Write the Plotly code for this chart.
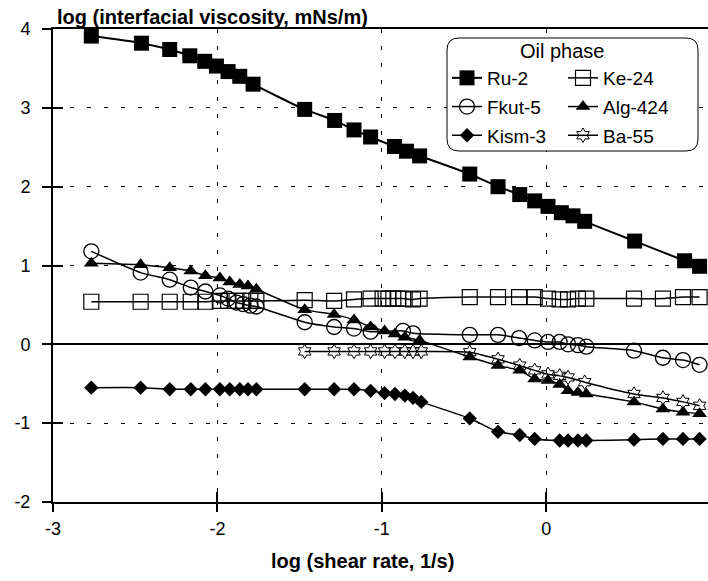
import plotly.graph_objects as go

# ---------------- data ----------------
ru_x = [-2.767, -2.462, -2.29, -2.168, -2.077, -2.006, -1.935, -1.864, -1.783,
        -1.469, -1.287, -1.169, -1.068, -0.923, -0.85, -0.77,
        -0.465, -0.293, -0.161, -0.07, 0.011, 0.092, 0.163, 0.234, 0.538, 0.842, 0.933]
ru_y = [3.91, 3.82, 3.74, 3.66, 3.59, 3.53, 3.46, 3.40, 3.30,
        2.98, 2.84, 2.72, 2.63, 2.51, 2.45, 2.39,
        2.16, 2.00, 1.90, 1.82, 1.75, 1.67, 1.63, 1.56, 1.31, 1.06, 0.99]

ke_x = [-2.767, -2.467, -2.29, -2.162, -2.073, -1.985, -1.935, -1.884, -1.843, -1.80, -1.763,
        -1.469, -1.29, -1.169, -1.068, -0.995, -0.96, -0.93, -0.90, -0.87, -0.81, -0.77,
        -0.465, -0.293, -0.165, -0.07, 0.011, 0.082, 0.133, 0.193, 0.244, 0.534, 0.71, 0.832, 0.933]
ke_y = [0.54, 0.54, 0.54, 0.54, 0.54, 0.55, 0.55, 0.55, 0.55, 0.55, 0.55,
        0.56, 0.55, 0.57, 0.58, 0.58, 0.58, 0.58, 0.58, 0.58, 0.57, 0.58,
        0.60, 0.60, 0.60, 0.60, 0.58, 0.57, 0.57, 0.58, 0.58, 0.58, 0.58, 0.60, 0.60]

fk_x = [-2.767, -2.467, -2.29, -2.162, -2.073, -1.985, -1.935, -1.884, -1.843, -1.80, -1.763,
        -1.469, -1.29, -1.169, -1.068, -0.871, -0.81,
        -0.465, -0.293, -0.165, -0.07, 0.011, 0.082, 0.133, 0.193, 0.244, 0.534, 0.71, 0.832, 0.933]
fk_y = [1.18, 0.91, 0.82, 0.72, 0.67, 0.62, 0.58, 0.53, 0.51, 0.49, 0.48,
        0.28, 0.22, 0.20, 0.16, 0.17, 0.14,
        0.12, 0.12, 0.08, 0.05, 0.03, 0.03, 0.00, -0.01, -0.03, -0.08, -0.17, -0.20, -0.26]

al_x = [-2.767, -2.467, -2.29, -2.162, -2.073, -1.985, -1.925, -1.864, -1.814, -1.763,
        -1.469, -1.29, -1.169, -1.068, -0.983, -0.92, -0.86, -0.77,
        -0.465, -0.293, -0.161, -0.07, 0.011, 0.082, 0.133, 0.193, 0.244, 0.534, 0.71, 0.832, 0.933]
al_y = [1.03, 1.01, 0.97, 0.93, 0.87, 0.84, 0.79, 0.76, 0.74, 0.70,
        0.44, 0.38, 0.31, 0.22, 0.17, 0.13, 0.09, 0.05,
        -0.16, -0.27, -0.33, -0.44, -0.46, -0.51, -0.59, -0.61, -0.63, -0.73, -0.82, -0.86, -0.88]

ki_x = [-2.767, -2.467, -2.29, -2.162, -2.073, -1.985, -1.925, -1.864, -1.814, -1.763,
        -1.469, -1.29, -1.169, -1.068, -0.983, -0.92, -0.86, -0.81, -0.76,
        -0.465, -0.293, -0.161, -0.07, 0.082, 0.133, 0.193, 0.244, 0.534, 0.71, 0.832, 0.933]
ki_y = [-0.55, -0.55, -0.57, -0.57, -0.57, -0.57, -0.57, -0.57, -0.57, -0.57,
        -0.57, -0.57, -0.57, -0.59, -0.62, -0.63, -0.65, -0.68, -0.73,
        -0.94, -1.11, -1.15, -1.20, -1.22, -1.22, -1.22, -1.22, -1.21, -1.20, -1.20, -1.20]

ba_x = [-1.469, -1.29, -1.169, -1.068, -0.983, -0.92, -0.86, -0.81, -0.76,
        -0.465, -0.293, -0.161, -0.07, 0.011, 0.082, 0.133, 0.234, 0.534, 0.71, 0.832, 0.933]
ba_y = [-0.09, -0.09, -0.09, -0.09, -0.09, -0.09, -0.09, -0.09, -0.09,
        -0.10, -0.19, -0.27, -0.33, -0.38, -0.40, -0.42, -0.48, -0.63, -0.68, -0.73, -0.78]

x_ticks = [-3, -2, -1, 0]
x_ticktext = ["-3", "-2", "-1", "0"]
y_ticks = [-2, -1, 0, 1, 2, 3, 4]
y_ticktext = ["-2", "-1", "0", "1", "2", "3", "4"]

FONT = "Liberation Sans, Arial, sans-serif"
W, H = 708, 581
ML, MT, MB = 53, 29, 79
PW, PH = W - ML, H - MT - MB
XR = [-3, -3 + PW / 164.4]

def px(x):
    return (x - ML) / PW

def py(y):
    return (H - MB - y) / PH

fig = go.Figure()

series = [
    ("Ru-2", ru_x, ru_y, dict(symbol="square", size=15, color="black"), 2, "legend", "g1"),
    ("Fkut-5", fk_x, fk_y, dict(symbol="circle-open", size=15, color="black", line=dict(width=1.3)), 1.5, "legend", "g2"),
    ("Kism-3", ki_x, ki_y, dict(symbol="diamond", size=11, color="black"), 1.5, "legend", "g3"),
    ("Ke-24", ke_x, ke_y, dict(symbol="square-open", size=15, color="black", line=dict(width=1.2)), 1.5, "legend2", "g4"),
    ("Alg-424", al_x, al_y, dict(symbol="triangle-up", size=13, color="black"), 1.5, "legend2", "g5"),
    ("Ba-55", ba_x, ba_y, dict(symbol="hexagram-open", size=11, color="black", line=dict(width=1)), 1.5, "legend2", "g6"),
]
for name, xs, ys, mk, lw, lg, grp in series:
    fig.add_trace(go.Scatter(
        x=xs, y=ys, name=name, mode="lines+markers",
        line=dict(color="black", width=lw, shape="spline", smoothing=0.6),
        marker=mk, legend=lg, legendgroup=grp,
    ))

# helper trace for crossing ticks (inside part)
fig.add_trace(go.Scatter(x=[None], y=[None], xaxis="x2", yaxis="y2", showlegend=False))

axis_font = dict(family=FONT, size=18, color="black")
leg_font = dict(family=FONT, size=19, color="black")
fig.update_layout(
    width=W, height=H,
    margin=dict(l=ML, r=0, t=MT, b=MB),
    paper_bgcolor="white", plot_bgcolor="white",
    font=dict(family=FONT, size=16, color="black"),
    xaxis=dict(range=XR, tickvals=x_ticks, ticktext=x_ticktext, ticks="outside", ticklen=8,
               tickwidth=2, tickcolor="black", tickfont=axis_font, ticklabelstandoff=1,
               showline=True, linewidth=2, linecolor="black", mirror=True, automargin=False,
               showgrid=True, gridcolor="black", gridwidth=1, griddash="4px,13px",
               zeroline=False),
    yaxis=dict(range=[-2, 4], tickvals=y_ticks, ticktext=y_ticktext, ticks="outside", ticklen=9,
               tickwidth=2, tickcolor="black", tickfont=axis_font, ticklabelstandoff=8,
               showline=True, linewidth=2, linecolor="black", automargin=False,
               showgrid=True, gridcolor="black", gridwidth=1, griddash="4px,13px",
               zeroline=True, zerolinecolor="black", zerolinewidth=2),
    xaxis2=dict(range=XR, overlaying="x", anchor="y2", tickvals=x_ticks, ticks="inside", ticklen=10,
                tickwidth=2, tickcolor="black", showticklabels=False, showgrid=False,
                zeroline=False, showline=False, automargin=False),
    yaxis2=dict(range=[-2, 4], overlaying="y", anchor="x2", tickvals=y_ticks, ticks="inside", ticklen=10,
                tickwidth=2, tickcolor="black", showticklabels=False, showgrid=False,
                zeroline=False, showline=False, automargin=False),
    legend=dict(x=px(447), y=py(59), xanchor="left", yanchor="top", bgcolor="rgba(0,0,0,0)",
                borderwidth=0, font=leg_font, tracegroupgap=1, itemwidth=30),
    legend2=dict(x=px(563), y=py(59), xanchor="left", yanchor="top", bgcolor="rgba(0,0,0,0)",
                 borderwidth=0, font=leg_font, tracegroupgap=1, itemwidth=30),
    showlegend=True,
)

# rounded legend box
x0, x1, y0, y1 = 447, 698, 38, 151
r = 12
pth = (f"M {px(x0 + r)},{py(y0)} L {px(x1 - r)},{py(y0)} Q {px(x1)},{py(y0)} {px(x1)},{py(y0 + r)} "
       f"L {px(x1)},{py(y1 - r)} Q {px(x1)},{py(y1)} {px(x1 - r)},{py(y1)} "
       f"L {px(x0 + r)},{py(y1)} Q {px(x0)},{py(y1)} {px(x0)},{py(y1 - r)} "
       f"L {px(x0)},{py(y0 + r)} Q {px(x0)},{py(y0)} {px(x0 + r)},{py(y0)} Z")
fig.add_shape(type="path", path=pth, xref="paper", yref="paper",
              line=dict(color="black", width=1), fillcolor="white", layer="above")

fig.add_annotation(text="Oil phase", x=px(562), y=py(51), xref="paper", yref="paper",
                   xanchor="center", yanchor="middle",
                   showarrow=False, font=dict(family=FONT, size=20, color="black"))
fig.add_annotation(text="<b>log (interfacial viscosity, mNs/m)</b>", x=px(55), y=py(17),
                   xref="paper", yref="paper", xanchor="left", yanchor="middle", showarrow=False,
                   font=dict(family=FONT, size=20, color="black"))
fig.add_annotation(text="<b>log (shear rate, 1/s)</b>", x=px(362), y=py(561),
                   xref="paper", yref="paper", xanchor="center", yanchor="middle", showarrow=False,
                   font=dict(family=FONT, size=20, color="black"))
fig.add_annotation(text="1", x=1, y=py(527), xref="x", yref="paper", xanchor="center",
                   yanchor="middle", showarrow=False, font=axis_font)

fig.write_html("out.html", config={"displayModeBar": False},
               post_script="document.body.style.margin='0px';")
